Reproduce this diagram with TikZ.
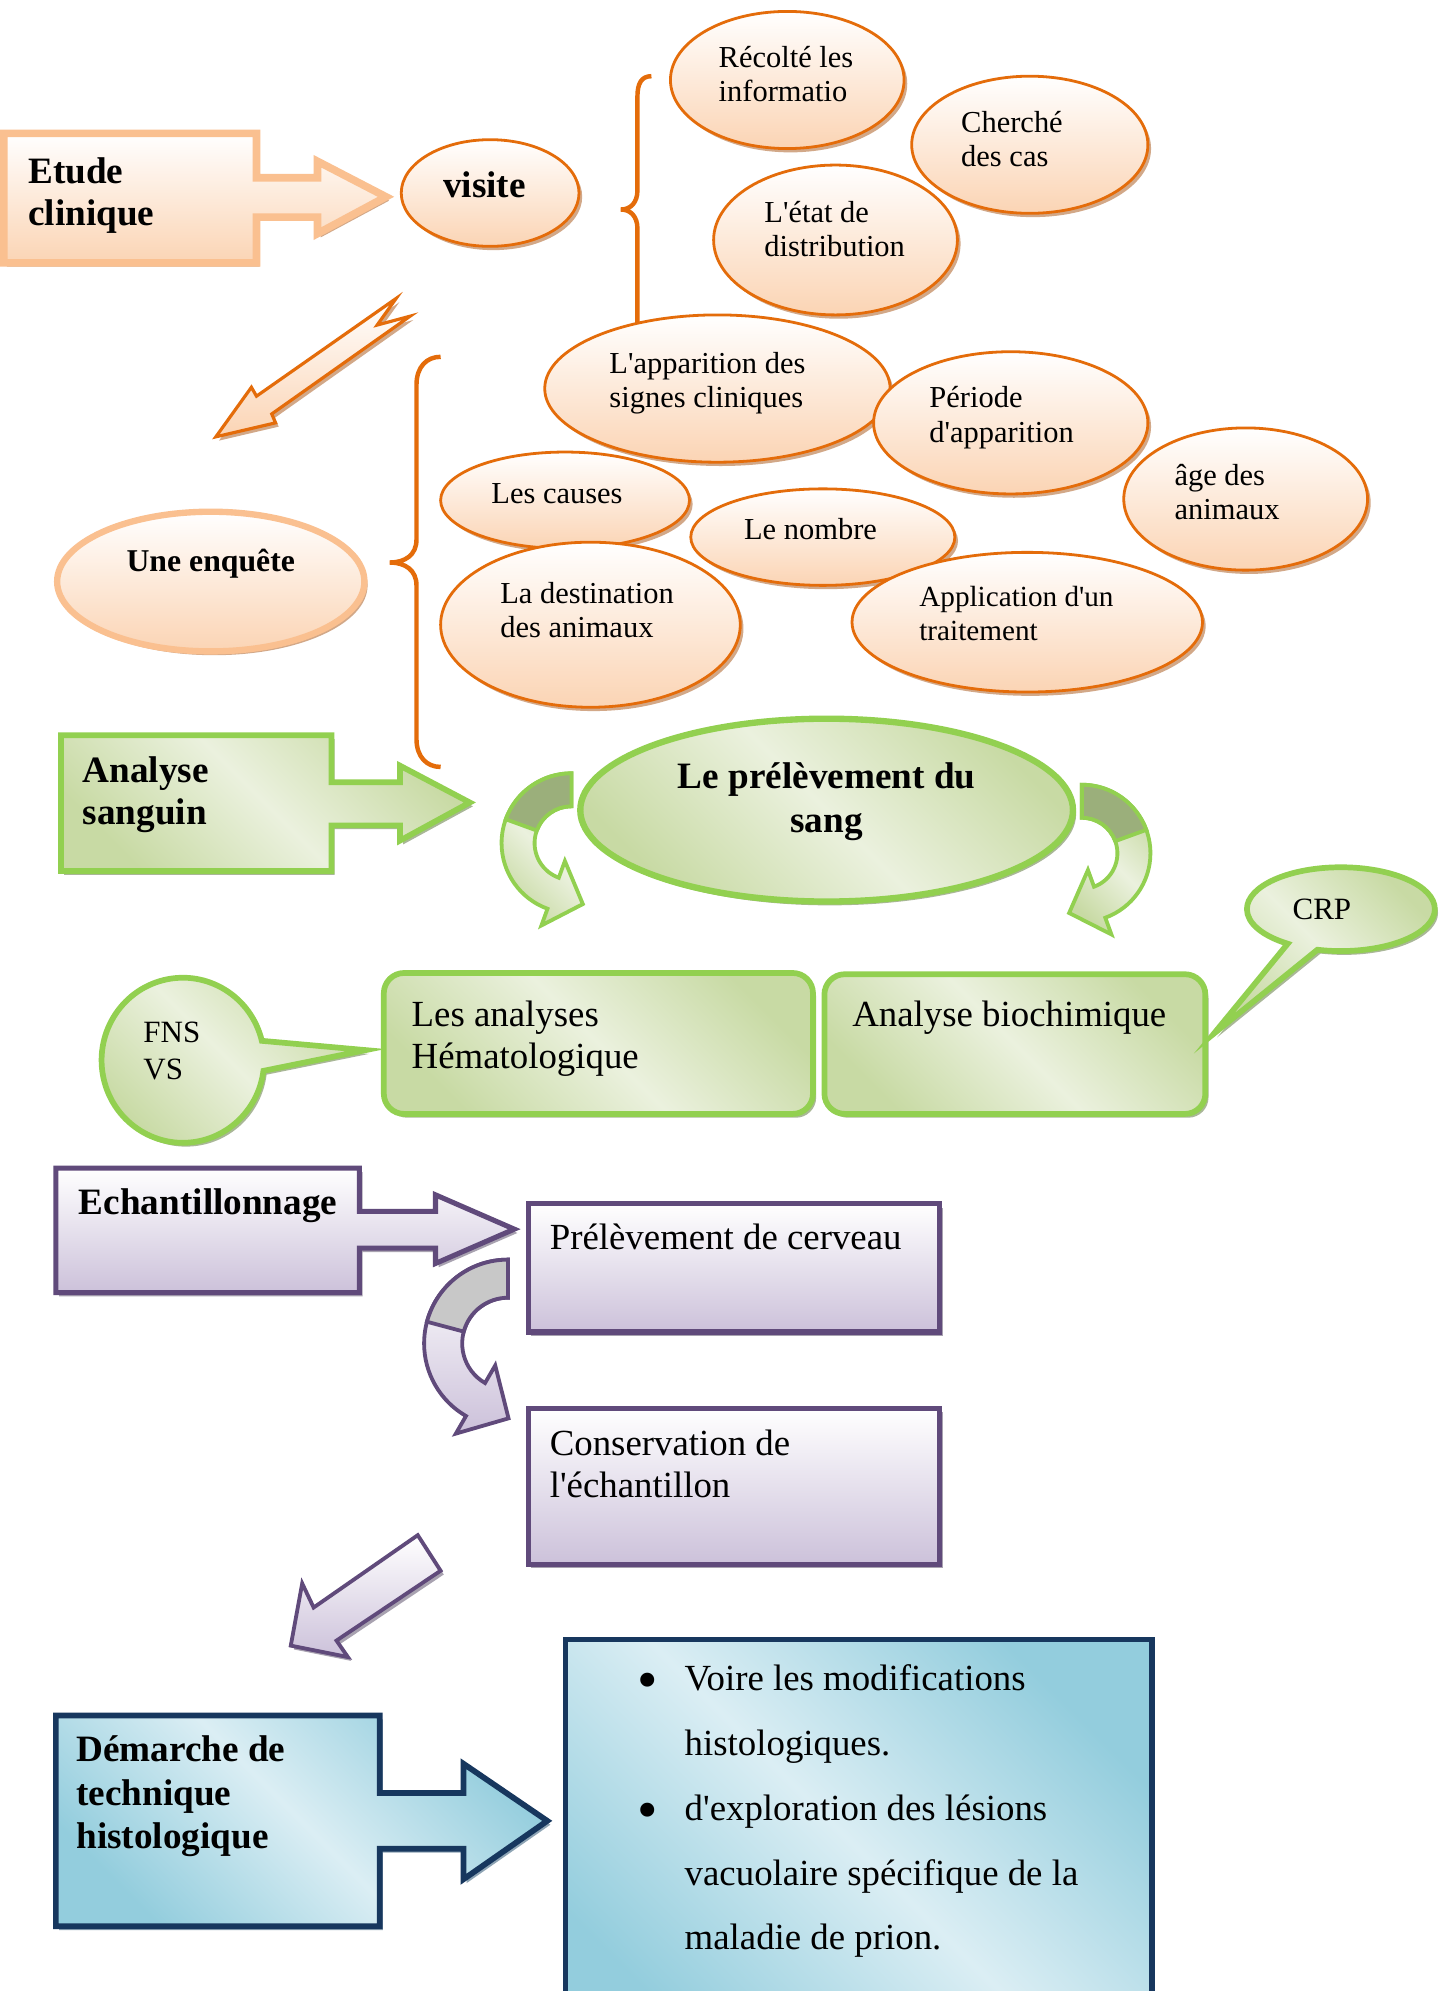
\documentclass[tikz,border=0pt]{standalone}
\usepackage{fontspec}
\newfontfamily\timesfont{Liberation Serif}
\usetikzlibrary{shapes.geometric,shapes.callouts,shadows}

\definecolor{orfonce}{HTML}{E46C0A}
\definecolor{orclair}{HTML}{FAC090}
\definecolor{peche}{HTML}{FBD4B4}
\definecolor{ombreor}{HTML}{D2A888}
\definecolor{vert}{HTML}{92D050}
\definecolor{vertpale}{HTML}{EBF1DE}
\definecolor{vertmoyen}{HTML}{C8DAA4}
\definecolor{vertsombre}{HTML}{9BAF7B}
\definecolor{ombrevert}{HTML}{A9B797}
\definecolor{violet}{HTML}{604A7B}
\definecolor{violetpale}{HTML}{CCC1DA}
\definecolor{grisboucle}{HTML}{C8C8C8}
\definecolor{ombreviolet}{HTML}{A8A2B0}
\definecolor{marine}{HTML}{17375E}
\definecolor{bleu}{HTML}{93CDDD}
\definecolor{bleupale}{HTML}{DBEEF4}
\definecolor{ombrebleu}{HTML}{8EA4B4}

\newcommand{\taille}[2]{\timesfont\fontsize{#1}{#2}\selectfont}
\newcommand{\bloc}[3]{\parbox[t][#1][t]{#2}{\raggedright #3}}
\newcommand{\puce}{\makebox[37pt][l]{\raisebox{-7pt}[0pt][0pt]{\fontsize{46}{0}\selectfont\textbullet}}}

\tikzset{
  accolade/.style={draw=orfonce, line width=3.5pt},
  peau/.style={top color=white, bottom color=peche},
  herbe/.style={top color=vertmoyen, bottom color=vertmoyen, middle color=vertpale, shading angle=-45},
  lavande/.style={top color=white, bottom color=violetpale},
  glace/.style={top color=bleu, bottom color=bleu, middle color=bleupale, shading angle=-45},
  ombre/.style={drop shadow={shadow xshift=2.5pt, shadow yshift=-3pt, fill=#1, opacity=1}},
  bulle/.style={ellipse, draw=orfonce, line width=2.2pt, peau, ombre=ombreor, inner sep=0pt, font=\taille{24}{27}},
  titre/.style={inner sep=0pt, anchor=north west, align=left, font=\taille{29.3}{33}\bfseries},
  bordor/.style={draw=orclair, line width=6pt, peau, ombre=ombreor},
  bordvert/.style={draw=vert, line width=4.5pt, herbe, ombre=ombrevert},
  bordviolet/.style={draw=violet, line width=4pt, lavande, ombre=ombreviolet},
  bordbleu/.style={draw=marine, line width=4.5pt, glace, ombre=ombrebleu},
  boite/.style={rectangle, anchor=north west, font=\taille{29}{33}},
}

\begin{document}
\begin{tikzpicture}[x=1pt, y=-1pt]
  \useasboundingbox (0,0) rectangle (1140,1568);
  \clip (0,0) rectangle (1140,1568);
  \fill[white] (0,0) rectangle (1140,1568);

  % accolades
  \draw[accolade] (513,60) .. controls (505,60) and (502,66) .. (502,76) -- (502,150) .. controls (502,159) and (497,165) .. (489,165) .. controls (497,165) and (502,171) .. (502,180) -- (502,262);
  \draw[accolade] (347,281) .. controls (336,281) and (328,289) .. (328,303) -- (328,425) .. controls (328,437) and (319,443) .. (307,443) .. controls (319,443) and (328,449) .. (328,461) -- (328,582) .. controls (328,596) and (336,604) .. (347,604);

  \node[bulle, minimum width=184pt, minimum height=108pt] (recolte) at (620,63) {\bloc{53pt}{108pt}{Récolté les\\informatio}};
  \node[bulle, minimum width=186pt, minimum height=108pt] (cherche) at (811,114) {\bloc{53pt}{108pt}{Cherché\\des cas}};
  \node[bulle, minimum width=192pt, minimum height=118pt] (etat) at (658,189) {\bloc{61pt}{112pt}{L'état de\\distribution}};
  \node[bulle, minimum width=272pt, minimum height=116pt] (apparition) at (565,306) {\bloc{57pt}{170pt}{L'apparition des\\signes cliniques}};
  \node[bulle, minimum width=216pt, minimum height=112pt] (periode) at (796,333) {\bloc{57pt}{128pt}{Période\\d'apparition}};
  \node[bulle, minimum width=192pt, minimum height=112pt] (age) at (981,393) {\bloc{55pt}{112pt}{âge des\\animaux}};
  \node[bulle, minimum width=196pt, minimum height=76pt] (causes) at (445,394) {\bloc{27pt}{116pt}{Les causes}};
  \node[bulle, minimum width=208pt, minimum height=76pt] (nombre) at (648,423) {\bloc{29pt}{124pt}{Le nombre}};
  \node[bulle, minimum width=236pt, minimum height=130pt] (destination) at (465,492) {\bloc{67pt}{142pt}{La destination\\des animaux}};
  \node[bulle, minimum width=276pt, minimum height=110pt, font=\taille{23}{27}] (traitement) at (809,490) {\bloc{57pt}{170pt}{Application d'un\\traitement}};

  % etude clinique
  \path[bordor] (3,105) -- (202,105) -- (202,140) -- (250,140) -- (250,127) -- (304,155) -- (250,184) -- (250,171) -- (202,171) -- (202,207) -- (3,207) -- cycle;
  \node[titre] (etude) at (22,124) {Etude\\clinique};
  \node[bulle, minimum width=140pt, minimum height=84pt, font=\taille{29.3}{33}\bfseries] (visite) at (386,152) {\bloc{34pt}{74pt}{visite}};
  \path[draw=orfonce, line width=2.5pt, peau, ombre=ombreor] (312,235) -- (202,312) -- (198,305) -- (170,344) -- (217,333) -- (214,326) -- (323,249) -- (297,256) -- cycle;
  \node[bulle, draw=orclair, line width=5pt, minimum width=242pt, minimum height=110pt, text depth=34pt, font=\taille{25}{29}\bfseries] (enquete) at (166,458) {Une enquête};

  % analyse sanguin
  \path[bordvert] (48,579) -- (261,579) -- (261,616) -- (315,616) -- (315,603) -- (370,632) -- (315,662) -- (315,650) -- (261,650) -- (261,686) -- (48,686) -- cycle;
  \node[titre] (sanguin) at (65,596) {Analyse\\sanguin};
  \begin{scope}[shift={(450,664)}]
    \path[draw=vert, line width=3pt, herbe] (270:55) arc[start angle=270, end angle=110, radius=55] -- (110:69) -- (9,48) -- (110:15) -- (110:29) arc[start angle=110, end angle=270, radius=29] -- cycle;
    \path[draw=vert, line width=3pt, fill=vertsombre] (270:55) arc[start angle=270, end angle=200, radius=55] -- (200:29) arc[start angle=200, end angle=270, radius=29] -- cycle;
  \end{scope}
  \begin{scope}[shift={(852,672)}]
    \path[draw=vert, line width=3pt, herbe] (270:54) arc[start angle=270, end angle=430, radius=54] -- (70:68) -- (-10,47) -- (70:14) -- (70:28) arc[start angle=430, end angle=270, radius=28] -- cycle;
    \path[draw=vert, line width=3pt, fill=vertsombre] (270:54) arc[start angle=270, end angle=340, radius=54] -- (340:28) arc[start angle=340, end angle=270, radius=28] -- cycle;
  \end{scope}
  \node[ellipse, bordvert, line width=5pt, minimum width=388pt, minimum height=144pt, inner sep=0pt, font=\taille{29.3}{34}\bfseries] (prelevement) at (651,638) {\parbox[t][74pt][t]{260pt}{\centering Le prélèvement du\\sang}};

  \node[boite, bordvert, rounded corners=16pt, inner xsep=22pt, inner ysep=22pt] (hemato) at (300,764) {\bloc{67pt}{294pt}{Les analyses\\Hématologique}};
  \node[boite, bordvert, rounded corners=16pt, inner xsep=22pt, inner ysep=21pt] (biochimie) at (647,765) {\bloc{68pt}{256pt}{Analyse biochimique}};
  \node[ellipse callout, bordvert, callout absolute pointer={(288,827)}, callout pointer arc=21, minimum width=128pt, minimum height=130pt, inner sep=0pt, font=\taille{24.4}{29}] (fns) at (144,835) {\bloc{60pt}{62pt}{FNS\\VS}};
  \node[ellipse callout, bordvert, callout absolute pointer={(956,814)}, callout pointer arc=20, minimum width=148pt, minimum height=66pt, inner sep=0pt, text width=76pt, align=left, font=\taille{24.4}{29}] (crp) at (1056,716) {CRP};

  % echantillonnage
  \path[bordviolet] (44,920) -- (283,920) -- (283,954) -- (343,954) -- (343,941) -- (405,968) -- (343,995) -- (343,983) -- (283,983) -- (283,1018) -- (44,1018) -- cycle;
  \node[titre] (echantillonnage) at (62,936) {Echantillonnage};
  \node[boite, bordviolet, inner xsep=17pt, inner ysep=16pt] (cerveau) at (414,946) {\bloc{69pt}{290pt}{Prélèvement de cerveau}};
  \begin{scope}[shift={(400,1058)}]
    \path[draw=violet, line width=3pt, lavande] (270:66) arc[start angle=270, end angle=120, radius=66] -- (120:82) -- (0.5,59) -- (120:20) -- (120:36) arc[start angle=120, end angle=270, radius=36] -- cycle;
    \path[draw=violet, line width=3pt, fill=grisboucle] (270:66) arc[start angle=270, end angle=195, radius=66] -- (195:36) arc[start angle=195, end angle=270, radius=36] -- cycle;
  \end{scope}
  \node[boite, bordviolet, inner xsep=17pt, inner ysep=17pt] (conservation) at (414,1107) {\bloc{89pt}{290pt}{Conservation de\\l'échantillon}};
  \path[draw=violet, line width=3pt, lavande, ombre=ombreviolet] (329,1209) -- (247,1266) -- (238,1247) -- (229,1296) -- (274,1305) -- (265,1292) -- (347,1237) -- cycle;

  % histologie
  \path[bordbleu] (44,1351) -- (299,1351) -- (299,1412) -- (365,1412) -- (365,1389) -- (431,1434) -- (365,1480) -- (365,1456) -- (299,1456) -- (299,1517) -- (44,1517) -- cycle;
  \node[titre, font=\taille{29.3}{34}\bfseries] (demarche) at (60,1367) {Démarche de\\technique\\histologique};
  \node[boite, bordbleu, inner xsep=0pt, inner ysep=20pt, font=\taille{29}{51}] (lesions) at (443,1289) {\parbox[t][291pt][t]{462pt}{\raggedright\leftskip=57pt
    \puce Voire les modifications\\
    \hspace*{37pt}histologiques.\\
    \puce d'exploration des lésions\\
    \hspace*{37pt}vacuolaire spécifique de la\\
    \hspace*{37pt}maladie de prion.}};
\end{tikzpicture}
\end{document}
